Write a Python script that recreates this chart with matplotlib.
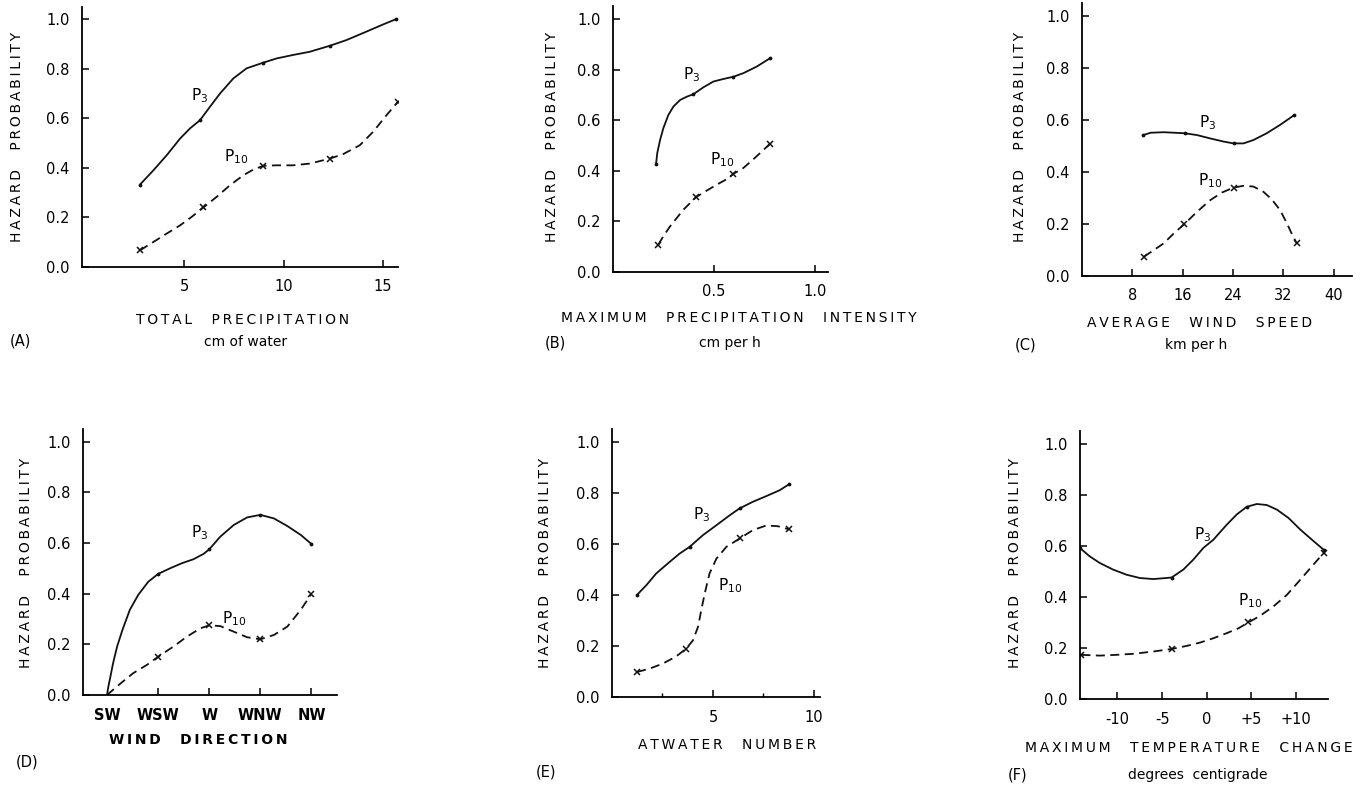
import numpy as np
import matplotlib
matplotlib.use("Agg")
from matplotlib import pyplot as plt

plt.rcParams['font.family'] = ['DejaVu Sans']
plt.rcParams['mathtext.default'] = 'regular'

# values; *_mk = indices of the marked points
# (A) total precipitation
a_p3_x = [2.78, 3.46, 4.13, 4.8, 5.3, 5.8, 6.3, 6.81, 7.47, 8.14, 8.98, 9.65, 10.48, 11.32, 12.32, 13.16, 14.16, 15.0, 15.67]
a_p3_y = [0.332, 0.39, 0.451, 0.518, 0.559, 0.592, 0.646, 0.7, 0.76, 0.801, 0.824, 0.841, 0.855, 0.868, 0.892, 0.915, 0.949, 0.978, 1.0]
a_p3_mk = [0, 5, 10, 14, 18]
a_p10_x = [2.78, 3.46, 4.13, 4.8, 5.38, 5.97, 6.64, 7.31, 7.98, 8.48, 8.98, 9.65, 10.48, 11.32, 12.32, 12.99, 13.83, 14.5, 15.17, 15.75]
a_p10_y = [0.067, 0.101, 0.135, 0.168, 0.202, 0.24, 0.283, 0.33, 0.37, 0.393, 0.408, 0.41, 0.41, 0.417, 0.437, 0.455, 0.491, 0.545, 0.612, 0.666]
a_p10_mk = [0, 5, 10, 14, 19]

# (B) maximum precipitation intensity
b_p3_x = [0.213, 0.219, 0.233, 0.249, 0.274, 0.299, 0.332, 0.365, 0.398, 0.447, 0.497, 0.546, 0.596, 0.645, 0.711, 0.777]
b_p3_y = [0.426, 0.47, 0.522, 0.568, 0.621, 0.654, 0.68, 0.693, 0.703, 0.73, 0.753, 0.763, 0.772, 0.786, 0.812, 0.845]
b_p3_mk = [0, 8, 12, 15]
b_p10_x = [0.224, 0.249, 0.282, 0.315, 0.348, 0.381, 0.411, 0.464, 0.513, 0.563, 0.596, 0.645, 0.695, 0.736, 0.777]
b_p10_y = [0.108, 0.141, 0.18, 0.213, 0.246, 0.272, 0.296, 0.322, 0.345, 0.367, 0.388, 0.411, 0.446, 0.476, 0.507]
b_p10_mk = [0, 6, 10, 14]

# (C) average wind speed
c_p3_x = [9.74, 10.9, 13.0, 16.33, 18.28, 20.39, 22.5, 24.08, 25.66, 27.24, 29.35, 31.46, 33.73]
c_p3_y = [0.542, 0.551, 0.553, 0.549, 0.542, 0.529, 0.517, 0.51, 0.51, 0.523, 0.549, 0.581, 0.619]
c_p3_mk = [0, 3, 7, 12]
c_p10_x = [9.84, 11.43, 13.01, 14.59, 16.28, 18.28, 20.39, 22.23, 24.08, 25.66, 27.24, 28.82, 30.14, 31.46, 32.51, 33.3, 34.1]
c_p10_y = [0.074, 0.1, 0.126, 0.164, 0.2, 0.247, 0.292, 0.321, 0.34, 0.347, 0.344, 0.324, 0.295, 0.254, 0.205, 0.164, 0.126]
c_p10_mk = [0, 4, 8, 16]

# (D) wind direction
d_labels = ['SW', 'WSW', 'W', 'WNW', 'NW']
d_p3_x = [0, 0.026, 0.066, 0.118, 0.197, 0.302, 0.446, 0.61, 0.807, 1.0, 1.233, 1.462, 1.692, 1.889, 2.0, 2.216, 2.479, 2.741, 3.0, 3.266, 3.528, 3.79, 4.0]
d_p3_y = [0, 0.033, 0.072, 0.125, 0.191, 0.257, 0.336, 0.395, 0.447, 0.478, 0.5, 0.52, 0.536, 0.557, 0.575, 0.625, 0.671, 0.701, 0.711, 0.697, 0.667, 0.632, 0.596]
d_p3_mk = [9, 14, 18, 22]
d_p10_x = [0, 0.249, 0.511, 0.774, 1.0, 1.298, 1.561, 1.823, 2.0, 2.216, 2.479, 2.741, 3.0, 3.266, 3.528, 3.79, 4.0]
d_p10_y = [0, 0.043, 0.086, 0.118, 0.151, 0.191, 0.23, 0.263, 0.275, 0.272, 0.25, 0.228, 0.22, 0.237, 0.27, 0.336, 0.399]
d_p10_mk = [4, 8, 12, 16]

# (E) atwater number
e_p3_x = [1.25, 1.7, 2.19, 2.85, 3.35, 3.84, 4.5, 5.17, 5.83, 6.32, 6.98, 7.64, 8.3, 8.76]
e_p3_y = [0.401, 0.438, 0.484, 0.529, 0.562, 0.588, 0.634, 0.673, 0.712, 0.739, 0.765, 0.787, 0.81, 0.833]
e_p3_mk = [0, 5, 9, 13]
e_p10_x = [1.24, 1.86, 2.52, 3.18, 3.68, 4.01, 4.26, 4.42, 4.59, 4.83, 5.17, 5.66, 6.32, 6.98, 7.64, 8.22, 8.76]
e_p10_y = [0.098, 0.111, 0.131, 0.159, 0.19, 0.222, 0.275, 0.34, 0.405, 0.484, 0.542, 0.588, 0.621, 0.654, 0.672, 0.669, 0.657]
e_p10_mk = [0, 4, 12, 16]

# (F) maximum temperature change
f_p3_x = [-14.23, -13.11, -11.99, -10.49, -8.99, -7.49, -5.99, -4.87, -3.93, -2.62, -1.5, -0.37, 0.75, 2.25, 3.37, 4.49, 5.62, 6.74, 7.87, 9.18, 10.49, 11.8, 13.11]
f_p3_y = [0.592, 0.559, 0.533, 0.507, 0.487, 0.474, 0.47, 0.473, 0.476, 0.507, 0.546, 0.592, 0.624, 0.683, 0.723, 0.753, 0.764, 0.76, 0.742, 0.709, 0.664, 0.624, 0.585]
f_p3_mk = [0, 8, 15, 22]
f_p10_x = [-14.04, -11.99, -10.11, -8.24, -5.99, -3.93, -2.25, -0.75, 0.75, 2.25, 3.56, 4.68, 5.99, 7.49, 8.99, 10.49, 11.8, 13.11]
f_p10_y = [0.173, 0.17, 0.173, 0.177, 0.186, 0.196, 0.208, 0.221, 0.238, 0.258, 0.277, 0.3, 0.326, 0.363, 0.408, 0.467, 0.52, 0.572]
f_p10_mk = [0, 5, 11, 17]
f_ticks = [-10, -5, 0, 5, 10]
f_ticklabels = ['-10', '-5', '0', '+5', '+10']

y_ticks = [0.0, 0.2, 0.4, 0.6, 0.8, 1.0]


def spaced(s):
    # emulate the wide lettering of the original
    return '\u2009'.join(s).replace('\u2009 \u2009 \u2009', '\u2009\u2003\u2009')


W, H = 1360, 785
fig = plt.figure(figsize=(W / 100, H / 100), dpi=100)


def make_ax(left, right, top, bottom):
    return fig.add_axes([left / W, 1 - bottom / H, (right - left) / W, (bottom - top) / H])


def style(ax, xlim):
    ax.set_xlim(*xlim)
    ax.set_ylim(0, 1.05)
    for s in ['top', 'right']:
        ax.spines[s].set_visible(False)
    for s in ['left', 'bottom']:
        ax.spines[s].set_linewidth(1.3)
    ax.set_yticks(y_ticks)
    ax.set_yticklabels(['%.1f' % v for v in y_ticks])
    ax.tick_params(direction='in', length=5, width=1.1, labelsize=10.5, pad=9)


def curves(ax, p3x, p3y, p3m, p10x, p10y, p10m):
    ax.plot(p3x, p3y, color='#111111', lw=1.3, solid_capstyle='round', solid_joinstyle='round')
    ax.plot([p3x[i] for i in p3m], [p3y[i] for i in p3m], ls='none', marker='.', ms=3.5, color='#111111')
    ax.plot(p10x, p10y, color='#111111', lw=1.3, ls=(0, (5, 3)))
    ax.plot([p10x[i] for i in p10m], [p10y[i] for i in p10m], ls='none', marker='x', ms=4.5, mew=1.1,
            color='#111111')


def ylabel(x, y):
    fig.text(x / W, 1 - y / H, spaced('HAZARD  PROBABILITY'), rotation=90,
             ha='center', va='center', fontsize=10)


def ftext(x, y, s, **kw):
    fig.text(x / W, 1 - y / H, s, ha='center', va='center', **kw)


def plabels(ax, p3, p10):
    ax.text(p3[0], p3[1], '$P_{3}$', fontsize=11, ha='center', va='center')
    ax.text(p10[0], p10[1], '$P_{10}$', fontsize=11, ha='center', va='center')


# (A)
ax = make_ax(82, 398, 6.6, 267)
style(ax, (-0.13, 15.75))
ax.set_xticks([5, 10, 15])
curves(ax, a_p3_x, a_p3_y, a_p3_mk, a_p10_x, a_p10_y, a_p10_mk)
plabels(ax, (5.8, 0.69), (7.6, 0.445))
ylabel(17, 137)
ftext(243, 320, spaced('TOTAL  PRECIPITATION'), fontsize=10)
ftext(246, 342, 'cm of water', fontsize=10)
ftext(20, 341, '(A)', fontsize=10.5)

# (B)
ax = make_ax(613, 828, 6.4, 272)
style(ax, (0, 1.064))
ax.set_xticks([0.5, 1.0])
ax.set_xticklabels(['0.5', '1.0'])
curves(ax, b_p3_x, b_p3_y, b_p3_mk, b_p10_x, b_p10_y, b_p10_mk)
plabels(ax, (0.39, 0.78), (0.538, 0.445))
ylabel(552, 137)
ftext(739, 318, spaced('MAXIMUM  PRECIPITATION  INTENSITY'), fontsize=10)
ftext(730, 343, 'cm per h', fontsize=10)
ftext(555, 343, '(B)', fontsize=10.5)

# (C)
ax = make_ax(1082, 1352, 3, 276)
style(ax, (0, 42.9))
ax.set_xticks([8, 16, 24, 32, 40])
curves(ax, c_p3_x, c_p3_y, c_p3_mk, c_p10_x, c_p10_y, c_p10_mk)
plabels(ax, (19.9, 0.59), (20.4, 0.365))
ylabel(1020, 137)
ftext(1200, 323, spaced('AVERAGE  WIND  SPEED'), fontsize=10)
ftext(1196, 345, 'km per h', fontsize=10)
ftext(1026, 345, '(C)', fontsize=10.5)

# (D)
ax = make_ax(83, 337, 429, 695)
style(ax, (-0.47, 4.5))
ax.set_xticks(range(len(d_labels)))
ax.set_xticklabels(d_labels, fontweight='bold')
ax.get_xticklines()[0].set_visible(False)
curves(ax, d_p3_x, d_p3_y, d_p3_mk, d_p10_x, d_p10_y, d_p10_mk)
plabels(ax, (1.82, 0.64), (2.48, 0.3))
ylabel(26, 563)
ftext(198, 740, spaced('WIND  DIRECTION'), fontsize=10, fontweight='bold')
ftext(27, 762, '(D)', fontsize=10.5)

# (E)
ax = make_ax(612, 820, 429, 697)
style(ax, (0, 10.3))
ax.set_xticks([5, 10])
ax.set_xticks([2.5, 7.5], minor=True)
ax.tick_params(which='minor', direction='in', length=3, width=1.0)
curves(ax, e_p3_x, e_p3_y, e_p3_mk, e_p10_x, e_p10_y, e_p10_mk)
plabels(ax, (4.42, 0.715), (5.85, 0.435))
ylabel(545, 563)
ftext(727, 745, spaced('ATWATER  NUMBER'), fontsize=10)
ftext(546, 772, '(E)', fontsize=10.5)

# (F)
ax = make_ax(1080, 1328, 431, 699)
style(ax, (-14.2, 13.6))
ax.set_xticks(f_ticks)
ax.set_xticklabels(f_ticklabels)
curves(ax, f_p3_x, f_p3_y, f_p3_mk, f_p10_x, f_p10_y, f_p10_mk)
plabels(ax, (-0.5, 0.645), (4.9, 0.385))
ylabel(1015, 563)
ftext(1189, 748, spaced('MAXIMUM  TEMPERATURE  CHANGE'), fontsize=10)
ftext(1198, 775, 'degrees  centigrade', fontsize=10)
ftext(1018, 775, '(F)', fontsize=10.5)

fig.savefig('out.png', dpi=100)
